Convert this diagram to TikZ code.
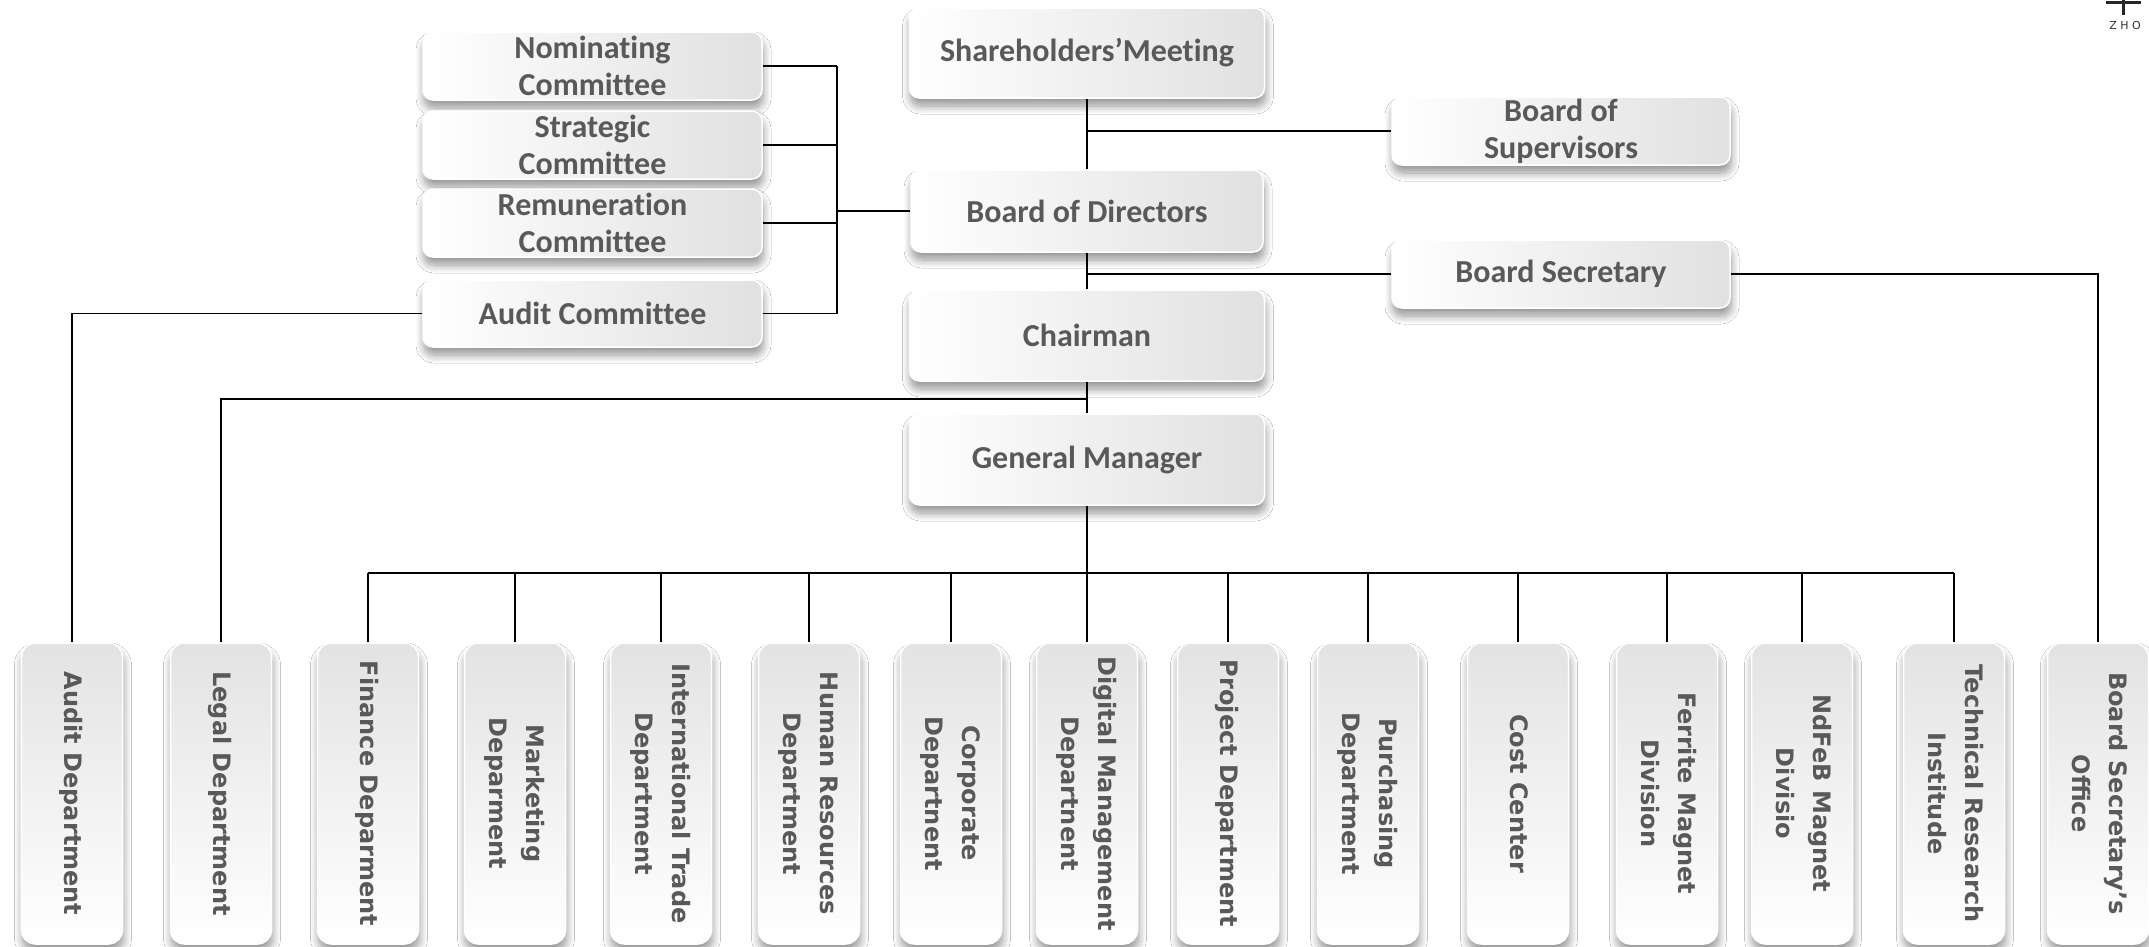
\documentclass[tikz,border=0pt]{standalone}
\usepackage{fontspec}
\usetikzlibrary{shadows.blur,calc}
\newfontfamily\calfont[Ligatures=NoCommon]{Carlito}
\newfontfamily\vfont{DejaVu Sans}
\newfontfamily\logofont{DejaVu Sans}
\definecolor{txt}{HTML}{595959}

% vertical (rotated) label, one or more centred lines
\newcommand{\vlab}[1]{\rotatebox{-90}{\begin{tabular}{@{}c@{}}#1\end{tabular}}}

\tikzset{
  box/.style={inner sep=0pt, draw=white, line width=1.5bp, text=txt, align=center,
    blur shadow={shadow xshift=1bp, shadow yshift=-8bp, shadow blur radius=8bp,
                 shadow opacity=42, shadow blur steps=12}},
  topbox/.style={box, rounded corners=10bp, left color=white, right color=black!12,
    font=\calfont\bfseries\fontsize{32bp}{37bp}\selectfont},
  deptbox/.style={box, rounded corners=14bp, minimum width=101bp, minimum height=301bp,
    top color=black!11, bottom color=white,
    font=\vfont\bfseries\fontsize{24bp}{37bp}\selectfont},
  link/.style={line width=1.6bp, black},
}

\begin{document}
\begin{tikzpicture}[x=1bp,y=-1bp]
\useasboundingbox[fill=white] (0,0) rectangle (2149,947);

% centre column
\node[topbox, minimum width=355bp, minimum height=90bp] (sh) at (1087,53) {Shareholders’Meeting};
\node[topbox, minimum width=352bp, minimum height=82bp] (bod) at (1087,211) {Board of Directors};
\node[topbox, minimum width=355bp, minimum height=91bp] (chair) at (1087,335.5) {Chairman};
\node[topbox, minimum width=355bp, minimum height=91bp] (gm) at (1087,459.5) {General Manager};

% right of the centre column
\node[topbox, minimum width=338bp, minimum height=68bp] (sup) at (1561,131) {Board of\\Supervisors};
\node[topbox, minimum width=338bp, minimum height=68bp] (bsec) at (1561,274) {Board Secretary};

% committees of the board
\node[topbox, minimum width=339bp, minimum height=68bp] (nom) at (592.5,66) {Nominating\\Committee};
\node[topbox, minimum width=339bp, minimum height=68bp] (str) at (592.5,145) {Strategic\\Committee};
\node[topbox, minimum width=339bp, minimum height=68bp] (rem) at (592.5,223) {Remuneration\\Committee};
\node[topbox, minimum width=339bp, minimum height=67bp] (acom) at (592.5,313.5) {Audit Committee};

% departments
\node[deptbox] (aud)   at (72,793.5)   {\vlab{Audit Department}};
\node[deptbox] (legal) at (221,793.5)  {\vlab{Legal Department}};
\node[deptbox] (fin)   at (368,793.5)  {\vlab{Finance Deparment}};
\node[deptbox] (mkt)   at (515,793.5)  {\vlab{Marketing\\Deparment}};
\node[deptbox] (itd)   at (661,793.5)  {\vlab{International Trade\\Department}};
\node[deptbox] (hr)    at (809,793.5)  {\vlab{Human Resources\\Department}};
\node[deptbox] (corp)  at (951,793.5)  {\vlab{Corporate\\Departnent}};
\node[deptbox] (dig)   at (1087,793.5) {\vlab{Digital Management\\Departnent}};
\node[deptbox] (proj)  at (1228,793.5) {\vlab{Project Department}};
\node[deptbox] (pur)   at (1368,793.5) {\vlab{Purchasing\\Department}};
\node[deptbox] (cost)  at (1518,793.5) {\vlab{Cost Center}};
\node[deptbox] (fer)   at (1667,793.5) {\vlab{Ferrite Magnet\\Division}};
\node[deptbox] (ndfeb) at (1802,793.5) {\vlab{NdFeB Magnet\\Divisio}};
\node[deptbox] (tech)  at (1954,793.5) {\vlab{Technical Research\\Institude}};
\node[deptbox] (bso)   at (2098,793.5) {\vlab{Board Secretary’s\\Office}};

% connectors of the centre column
\draw[link] (sh.south) -- (bod.north);
\draw[link] (sh.south |- sup.west) -- (sup.west);
\draw[link] (bod.south) -- (chair.north);
\draw[link] (bod.south |- bsec.west) -- (bsec.west);
\draw[link] (bsec.east) -| (bso.north);
\draw[link] (chair.south) -- (gm.north);
\coordinate (jl) at ($(chair.south)!0.55!(gm.north)$);
\draw[link] (jl) -| (legal.north);

% committee bracket
\coordinate (cbus) at (837,0);
\foreach \c in {nom,str,rem,acom}
  \draw[link] (\c.east) -- (\c.east -| cbus);
\draw[link] (nom.east -| cbus) -- (acom.east -| cbus);
\draw[link] (bod.west) -- (bod.west -| cbus);
\draw[link] (acom.west) -| (aud.north);

% department bus
\coordinate (bus) at (0,573);
\draw[link] (gm.south) -- (gm.south |- bus);
\draw[link] (fin.north |- bus) -- (tech.north |- bus);
\foreach \d in {fin,mkt,itd,hr,corp,dig,proj,pur,cost,fer,ndfeb,tech}
  \draw[link] (\d.north |- bus) -- (\d.north);

% corner mark
\draw[line width=3bp, black!85] (2106,2) -- (2141,2);
\draw[line width=3bp, black!85] (2123,0) -- (2123,15);
\node[font=\logofont\fontsize{11bp}{13bp}\selectfont, text=black!80, inner sep=0pt] (mark) at (2125,25)
  {Z\hspace{3.5bp}H\hspace{3.5bp}O};
\end{tikzpicture}
\end{document}
